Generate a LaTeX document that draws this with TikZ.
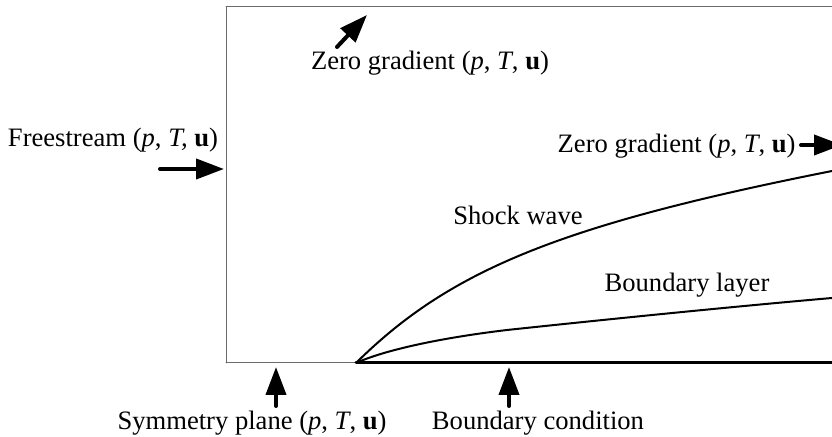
\documentclass[tikz,border=0pt]{standalone}
\usepackage{fontspec}
\setmainfont{Liberation Serif}
\usetikzlibrary{arrows.meta,calc}
\usepackage{tkz-euclide}
\definecolor{WallClr}{rgb}{0.42,0.42,0.42}

\tikzset{bcarrow/.style={-{Triangle[length=14pt,width=10pt]},line width=2pt},
  lbl/.style={font=\fontsize{13.3}{16}\selectfont,anchor=base,inner sep=0pt}}

\begin{document}
\begin{tikzpicture}[x=0.5pt,y=-0.5pt]
\useasboundingbox (0,0) rectangle (832,437);

\tkzDefPoints{832/7/A,226/7/B,226/363/C,356/363/O,832/363/E,
  832/171/W,507/330/L,832/298/M}
% arrow ends
\tkzDefPoints{337/47/T1,367/15/T2,160/169/F1,224/169/F2,801/145/R1,842/145/R2,
  276/406/P1,276/367/P2,509/406/Q1,509/367/Q2}

% domain
\tkzDrawSegments[line width=0.5pt,color=WallClr](A,B B,C C,O)
\tkzDrawSegments[line width=1.5pt,color=black](O,E)

% shock wave and boundary layer
\draw[line width=1pt] (O) .. controls (450,270) and (560,225) .. (W);
\draw[line width=1pt] (O) .. controls (385,350) and (440,338) .. (L)
  .. controls (620,318) and (740,306) .. (M);

\tkzDrawSegments[bcarrow](T1,T2 F1,F2 R1,R2 P1,P2 Q1,Q2)

\node[lbl] (topzero) at (430,70) {Zero gradient (\textit{p}, \textit{T}, \textbf{u})};
\node[lbl] (inflow) at (113,147) {Freestream (\textit{p}, \textit{T,} \textbf{u})};
\node[lbl,anchor=base east] (outflow) at (796,153) {Zero gradient (\textit{p}, \textit{T}, \textbf{u})};
\node[lbl] (shock) at (518,225) {Shock wave};
\node[lbl] (layer) at (687,292) {Boundary layer};
\node[lbl] (sym) at (252,430) {Symmetry plane (\textit{p}, \textit{T}, \textbf{u})};
\node[lbl] (wall) at (538,430) {Boundary condition};

\end{tikzpicture}
\end{document}
